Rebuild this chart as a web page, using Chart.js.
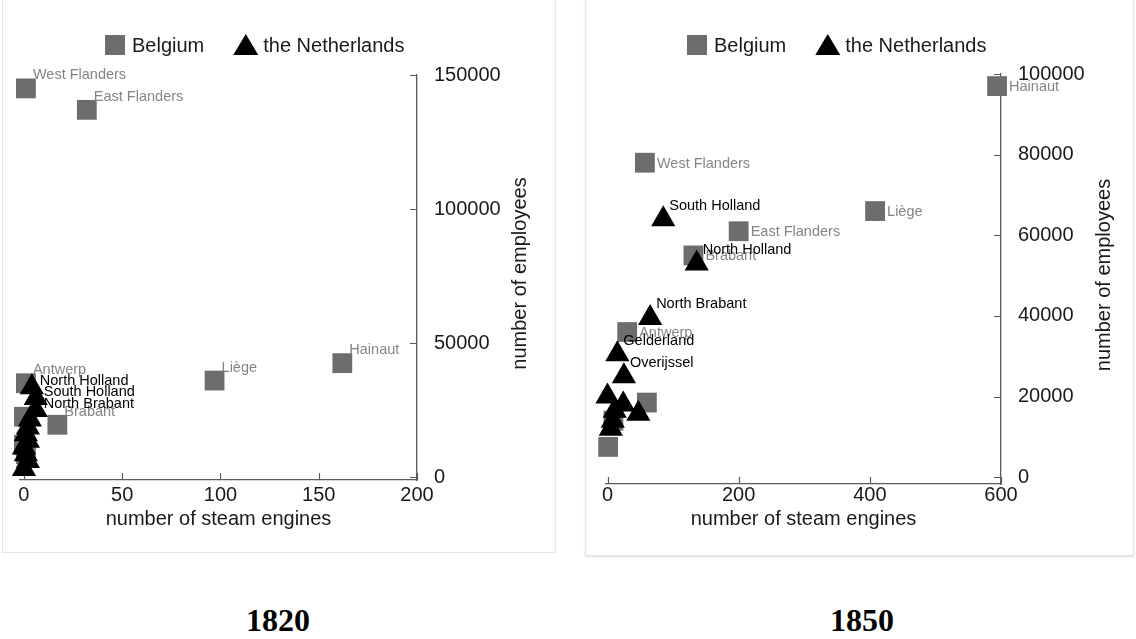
<!DOCTYPE html>
<html>
<head>
<meta charset="utf-8">
<script src="https://cdn.jsdelivr.net/npm/chart.js@4.4.1/dist/chart.umd.min.js"></script>
<style>
  html, body { margin: 0; padding: 0; background: #fff; width: 1136px; height: 639px; overflow: hidden; }
  .panel { position: absolute; background: #fff; border: 1px solid #e3e5e9; box-sizing: border-box; }
  #p1 { left: 2px; top: -1px; width: 554px; height: 554px; }
  #p2 { left: 585px; top: -1px; width: 549px; height: 557px; box-shadow: 0 1px 2px rgba(0,0,0,0.12); }
  canvas { position: absolute; }
  #c1 { left: 0; top: 0; }
  #c2 { left: 580px; top: 0; }
  .year { position: absolute; top: 602px; width: 140px; text-align: center;
          font: bold 32px "Liberation Serif", "Times New Roman", serif; color: #000; }
</style>
</head>
<body>
<div class="panel" id="p1"></div>
<div class="panel" id="p2"></div>
<canvas id="c1" width="560" height="555"></canvas>
<canvas id="c2" width="556" height="555"></canvas>
<div class="year" style="left:208px">1820</div>
<div class="year" style="left:792px">1850</div>
<script>
// ---- 1820: provinces by number of steam engines and employees ----
const be1820Labels    = ['West Flanders', 'East Flanders', 'Liège', 'Hainaut', 'Antwerp', 'Brabant', '', '', ''];
const be1820Engines   = [1, 32, 97, 162, 1, 17, 0, 0, 1];
const be1820Employees = [145000, 137000, 36000, 42500, 35000, 19500, 22500, 12000, 8500];

const nl1820Labels    = ['North Holland', 'South Holland', 'North Brabant', '', '', '', '', '', '', '', ''];
const nl1820Engines   = [4, 6, 6, 3, 2, 1, 2, 0, 1, 2, 0];
const nl1820Employees = [33500, 29500, 25000, 21500, 18500, 16000, 13500, 11000, 8500, 6000, 3000];

const xTicks1820 = [0, 50, 100, 150, 200];
const yTicks1820 = [0, 50000, 100000, 150000];

// ---- 1850 ----
const be1850Labels    = ['Hainaut', 'West Flanders', 'Liège', 'East Flanders', 'Brabant', 'Antwerp', '', '', ''];
const be1850Engines   = [594, 57, 408, 200, 131, 30, 60, 9, 1];
const be1850Employees = [97000, 78000, 66000, 61000, 55000, 36000, 18500, 14000, 7500];

const nl1850Labels    = ['South Holland', 'North Holland', 'North Brabant', 'Gelderland', 'Overijssel', '', '', '', '', '', ''];
const nl1850Engines   = [85, 136, 65, 15, 25, 0, 24, 47, 11, 5, 8];
const nl1850Employees = [64000, 53000, 39500, 30500, 25000, 20000, 18000, 15700, 16500, 12000, 14000];

const xTicks1850 = [0, 200, 400, 600];
const yTicks1850 = [0, 20000, 40000, 60000, 80000, 100000];

const seriesNames = ['Belgium', 'the Netherlands'];
const FONT = '"Liberation Sans", Arial, Helvetica, sans-serif';
const BE_COLOR = '#6d6d6d';
const BE_TEXT = '#858585';
const NL_COLOR = '#000000';
const AXIS_COLOR = '#5a5a5a';
const TEXT_COLOR = '#1a1a1a';

Chart.defaults.font.family = FONT;

const toPoints = (xs, ys) => xs.map((v, i) => ({ x: v, y: ys[i] }));

// point labels drawn right after their own dataset, so later markers sit on top
const markLabels = {
  id: 'markLabels',
  afterDatasetDraw(chart, args) {
    const ds = chart.data.datasets[args.index];
    if (!ds.pointLabels) return;
    const ctx = chart.ctx;
    ctx.save();
    ctx.font = '14.5px ' + FONT;
    ctx.fillStyle = ds.labelColor;
    ctx.textAlign = 'left';
    ctx.textBaseline = 'middle';
    args.meta.data.forEach((pt, i) => {
      const t = ds.pointLabels[i];
      if (t) ctx.fillText(t, pt.x + ds.labelDx, pt.y + ds.labelDy);
    });
    ctx.restore();
  }
};

// tick marks pointing into the plot region
const innerTicks = {
  id: 'innerTicks',
  beforeDatasetsDraw(chart) {
    const { ctx, chartArea, scales: { x, y } } = chart;
    ctx.save();
    ctx.strokeStyle = AXIS_COLOR;
    ctx.lineWidth = 1.2;
    ctx.beginPath();
    x.ticks.forEach(t => {
      const px = Math.round(x.getPixelForValue(t.value)) + 0.5;
      ctx.moveTo(px, chartArea.bottom);
      ctx.lineTo(px, chartArea.bottom - 7);
    });
    y.ticks.forEach(t => {
      const py = Math.round(y.getPixelForValue(t.value)) + 0.5;
      ctx.moveTo(chartArea.right, py);
      ctx.lineTo(chartArea.right - 7, py);
    });
    ctx.stroke();
    ctx.restore();
  }
};

// vertical axis title, reading bottom to top, right of the tick labels
const yTitle = {
  id: 'yTitle',
  afterDraw(chart, args, opts) {
    const { ctx, chartArea } = chart;
    ctx.save();
    ctx.translate(chartArea.right + opts.offset, (chartArea.top + chartArea.bottom) / 2 - 4);
    ctx.rotate(-Math.PI / 2);
    ctx.font = '20px ' + FONT;
    ctx.fillStyle = TEXT_COLOR;
    ctx.textAlign = 'center';
    ctx.textBaseline = 'middle';
    ctx.fillText(opts.text, 0, 0);
    ctx.restore();
  }
};

// key above the plot: marker then series name
const keyLegend = {
  id: 'keyLegend',
  afterDraw(chart, args, opts) {
    const ctx = chart.ctx;
    let x = opts.left;
    const cy = opts.top;
    ctx.save();
    ctx.font = '20px ' + FONT;
    ctx.textBaseline = 'middle';
    ctx.textAlign = 'left';
    opts.order.forEach(idx => {
      const ds = chart.data.datasets[idx];
      ctx.fillStyle = ds.backgroundColor;
      if (ds.pointStyle === 'rect') {
        ctx.fillRect(x, cy - 10, 20, 20);
        x += 27;
      } else {
        ctx.beginPath();
        ctx.moveTo(x + 12.5, cy - 11);
        ctx.lineTo(x + 25, cy + 10);
        ctx.lineTo(x, cy + 10);
        ctx.closePath();
        ctx.fill();
        x += 30;
      }
      ctx.fillStyle = TEXT_COLOR;
      ctx.fillText(ds.label, x, cy + 1);
      x += ctx.measureText(ds.label).width + 29;
    });
    ctx.restore();
  }
};

function makeChart(id, d) {
  return new Chart(document.getElementById(id), {
    type: 'scatter',
    data: {
      datasets: [
        {
          label: seriesNames[0],
          data: toPoints(d.beX, d.beY),
          pointLabels: d.beLabels,
          pointStyle: 'rect',
          pointRadius: 14,
          pointHoverRadius: 14,
          pointBorderWidth: 0,
          backgroundColor: BE_COLOR,
          borderColor: BE_COLOR,
          labelColor: BE_TEXT,
          labelDx: d.beDx, labelDy: d.beDy,
          clip: false,
          order: 1
        },
        {
          label: seriesNames[1],
          data: toPoints(d.nlX, d.nlY),
          pointLabels: d.nlLabels,
          pointStyle: 'triangle',
          pointRadius: 14,
          pointHoverRadius: 14,
          pointBorderWidth: 0,
          backgroundColor: NL_COLOR,
          borderColor: NL_COLOR,
          labelColor: '#000',
          labelDx: d.nlDx, labelDy: d.nlDy,
          clip: false,
          order: 0
        }
      ]
    },
    options: {
      responsive: false,
      animation: false,
      events: [],
      devicePixelRatio: 1,
      layout: { padding: d.padding },
      plugins: {
        legend: { display: false },
        tooltip: { enabled: false },
        keyLegend: { left: d.keyLeft, top: 45, order: [0, 1] },
        yTitle: { text: 'number of employees', offset: 103 }
      },
      scales: {
        x: {
          type: 'linear',
          position: 'bottom',
          min: d.xMin, max: d.xMax,
          afterBuildTicks: s => { s.ticks = d.xTicks.map(v => ({ value: v })); },
          afterFit: s => { s.height = 60; },
          grid: { display: false },
          border: { display: true, color: AXIS_COLOR, width: 1.3 },
          ticks: { color: TEXT_COLOR, font: { size: 20 }, padding: d.xTickPad, maxRotation: 0, autoSkip: false,
                   callback: v => String(v) },
          title: { display: true, text: 'number of steam engines', color: TEXT_COLOR,
                   font: { size: 20 }, padding: { top: 0, bottom: d.xTitlePad } }
        },
        y: {
          type: 'linear',
          position: 'right',
          min: d.yMin, max: d.yMax,
          afterBuildTicks: s => { s.ticks = d.yTicks.map(v => ({ value: v })); },
          afterFit: s => { s.width = 120; },
          grid: { display: false },
          border: { display: true, color: AXIS_COLOR, width: 1.3 },
          ticks: { color: TEXT_COLOR, font: { size: 20 }, padding: 9, autoSkip: false,
                   callback: v => String(v) }
        }
      }
    },
    plugins: [innerTicks, markLabels, yTitle, keyLegend]
  });
}

makeChart('c1', {
  beX: be1820Engines, beY: be1820Employees, beLabels: be1820Labels,
  nlX: nl1820Engines, nlY: nl1820Employees, nlLabels: nl1820Labels,
  xTicks: xTicks1820, yTicks: yTicks1820,
  xMin: -2, xMax: 200, yMin: -1100, yMax: 150000,
  padding: { left: 20, top: 75, right: 23, bottom: 15 },
  xTickPad: -5, xTitlePad: 9,
  keyLeft: 105,
  beDx: 7, beDy: -13, nlDx: 8, nlDy: -6
});

makeChart('c2', {
  beX: be1850Engines, beY: be1850Employees, beLabels: be1850Labels,
  nlX: nl1850Engines, nlY: nl1850Employees, nlLabels: nl1850Labels,
  xTicks: xTicks1850, yTicks: yTicks1850,
  xMin: -2.3, xMax: 600, yMin: -1700, yMax: 100000,
  padding: { left: 26, top: 74, right: 15, bottom: 11 },
  xTickPad: -9, xTitlePad: 13,
  keyLeft: 107,
  beDx: 12, beDy: 1, nlDx: 6, nlDy: -13.5
});
</script>
</body>
</html>
